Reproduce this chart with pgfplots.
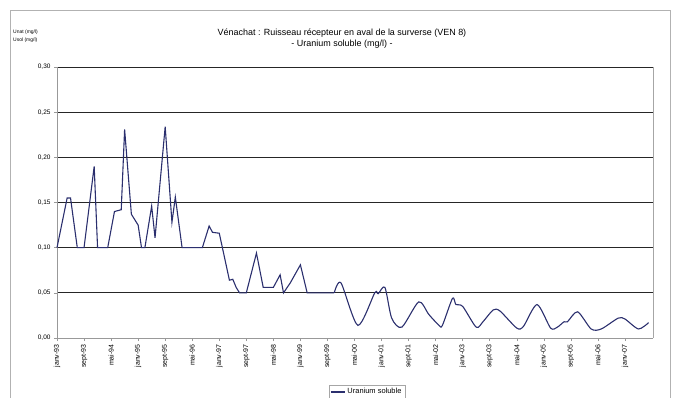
\documentclass[border=0pt]{standalone}
\usepackage{fontspec}
\setmainfont{Liberation Sans}
\usepackage{pgfplots}
\pgfplotsset{compat=1.18}
\definecolor{navy}{HTML}{2B2F6E}
\begin{document}
\begin{tikzpicture}
\path[use as bounding box] (0bp,0bp) rectangle (680bp,-398bp);
\draw[gray!60, line width=0.8bp] (10bp,-398bp) -- (10bp,-10bp) -- (670bp,-10bp) -- (670bp,-398bp);
\node[font=\fontsize{9}{11}\selectfont, align=center] at (342bp,-39bp) {Vénachat : Ruisseau récepteur en aval de la surverse (VEN 8)\\- Uranium soluble (mg/l) -};
\node[font=\fontsize{5}{6}\selectfont, anchor=west, inner sep=0pt] at (13bp,-32bp) {Unat (mg/l)};
\node[font=\fontsize{5}{6}\selectfont, anchor=west, inner sep=0pt] at (13bp,-40bp) {Usol (mg/l)};
\begin{axis}[
  at={(57bp,-338bp)}, anchor=south west,
  scale only axis, width=596bp, height=271bp,
  xmin=0, xmax=176.3, ymin=0, ymax=0.30,
  axis x line*=bottom, axis y line*=left,
  axis line style={gray!80, line width=0.7bp},
  ytick={0,0.05,0.1,0.15,0.2,0.25,0.3},
  yticklabels={{0,00},{0,05},{0,10},{0,15},{0,20},{0,25},{0,30}},
  ymajorgrids, grid style={black!85, line width=0.8bp},
  xtick={0,8,...,168},
  xticklabels={janv-93,sept-93,mai-94,janv-95,sept-95,mai-96,janv-97,sept-97,mai-98,janv-99,sept-99,mai-00,janv-01,sept-01,mai-02,janv-03,sept-03,mai-04,janv-05,sept-05,mai-06,janv-07},
  xticklabel style={rotate=90, anchor=east, font=\fontsize{7}{8}\selectfont},
  yticklabel style={font=\fontsize{6.5}{7}\selectfont},
  /pgf/number format/assume math mode=true,
  tick align=outside, major tick length=3bp,
  tick style={gray!80, line width=0.5bp},
  legend style={at={(0.52,-0.173)}, anchor=north, draw=gray!70, font=\fontsize{7.5}{8}\selectfont, inner sep=1.5bp},
  legend cell align=left,
  legend image code/.code={\draw[#1] (0bp,0bp) -- (14bp,0bp);},
  clip=false,
]
\draw[gray!70, line width=0.7bp] (rel axis cs:1,0) -- (rel axis cs:1,1);
\addplot[navy, line width=1.1bp, mark=none] coordinates {
(0,0.100) (3,0.155) (4,0.155) (6,0.100) (8,0.100) (11,0.190) (12,0.100) (15,0.100)
(17,0.140) (19,0.142) (20,0.231) (22,0.137) (24,0.125) (25,0.100) (26,0.100) (28,0.146)
(29,0.111) (32,0.234) (34,0.128) (35,0.156) (37,0.100) (43,0.100) (45,0.124) (46,0.117)
(48,0.116) (51,0.064) (52,0.065) (53,0.056) (54,0.050) (56,0.050) (59,0.094) (61,0.056)
(64,0.056) (66,0.070) (67,0.050) (69,0.061) (72,0.081) (74,0.050) (82,0.050)
};
\addlegendentry{Uranium soluble}
\addplot[navy, line width=1.1bp, mark=none, smooth, tension=0.45, forget plot] coordinates {
(82,0.050) (84,0.061)
(89,0.014) (94,0.050) (95,0.049) (97,0.056) (99,0.022) (102,0.012) (107,0.040) (110,0.026)
(113,0.014) (114,0.014) (117,0.044) (118,0.037) (120,0.035) (124,0.012) (126,0.018) (129,0.031)
(131,0.030) (136,0.011) (138,0.013) (142,0.037) (146,0.011) (148,0.012) (150,0.018) (151,0.018)
(154,0.029) (158,0.010) (161,0.010) (166,0.022) (168,0.021) (172,0.010) (175,0.017)
};
\end{axis}
\end{tikzpicture}
\end{document}
